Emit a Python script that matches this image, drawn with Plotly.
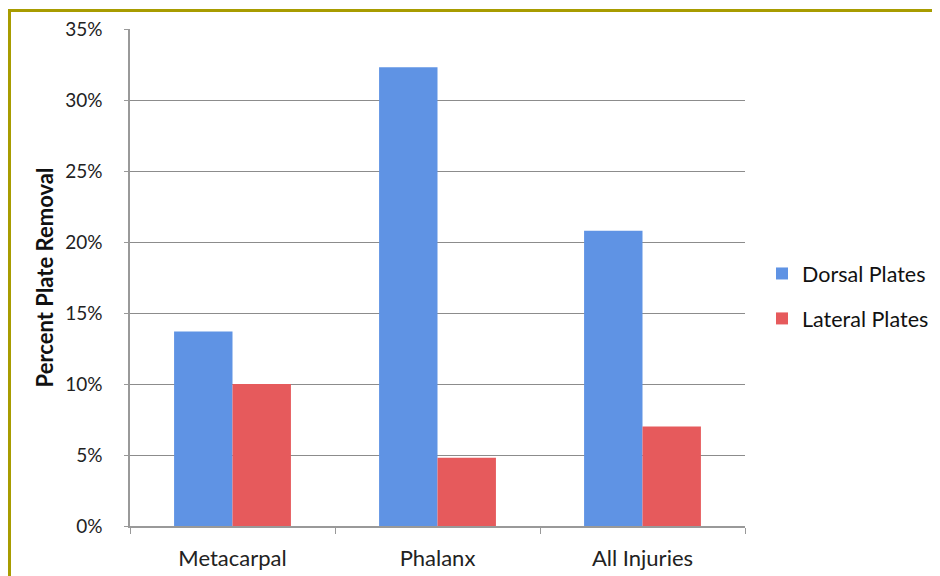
import plotly.graph_objects as go

categories = ["Metacarpal", "Phalanx", "All Injuries"]
dorsal = [0.137, 0.323, 0.208]
lateral = [0.100, 0.048, 0.070]
tick_vals = [0, 0.05, 0.10, 0.15, 0.20, 0.25, 0.30, 0.35]
tick_text = ["0%", "5%", "10%", "15%", "20%", "25%", "30%", "35%"]

# page is rendered with an 8px body margin; work in figure coords = page - 8
OFF = 8
W, H = 940 - OFF, 576 - OFF
L, T = 130 - OFF, 29 - OFF
R, B = W - (745 - OFF), H - (526 - OFF)
pw, ph = W - L - R, H - T - B

font = "Lato, 'Open Sans', sans-serif"

fig = go.Figure()
fig.add_trace(go.Bar(name="Dorsal Plates", x=categories, y=dorsal, legendgroup="d",
                     marker=dict(color="#5F93E4", line=dict(width=0))))
fig.add_trace(go.Bar(name="Lateral Plates", x=categories, y=lateral, legendgroup="l",
                     marker=dict(color="#E65A5C", line=dict(width=0))))

fig.update_layout(
    width=W, height=H,
    margin=dict(l=L, r=R, t=T, b=B, autoexpand=False),
    paper_bgcolor="white", plot_bgcolor="white",
    barmode="group", bargap=0.43, bargroupgap=0,
    font=dict(family=font, size=18, color="#222"),
    legend=dict(x=(762 - OFF - L) / pw, y=(H - (253 - OFF) - B) / ph,
                xanchor="left", yanchor="top",
                font=dict(size=21.5, color="#111"), tracegroupgap=14, itemwidth=30,
                bgcolor="rgba(0,0,0,0)"),
    xaxis=dict(showline=True, linecolor="#999", linewidth=1.5, ticks="outside",
               tickson="boundaries", ticklen=6, tickcolor="#999", automargin=False,
               ticklabelstandoff=12,
               tickfont=dict(size=22, color="#222"), showgrid=False),
    yaxis=dict(range=[0, 0.35], tickvals=tick_vals, ticktext=tick_text,
               showline=True, linecolor="#999", linewidth=1.5, ticks="outside",
               ticklen=4, tickcolor="#999", gridcolor="#8c8c8c", gridwidth=1.2,
               ticklabelstandoff=18, automargin=False,
               tickfont=dict(size=19, color="#222"), zeroline=False,
               title=dict(text="<b>Percent Plate Removal</b>", font=dict(size=22, color="#111"),
                          standoff=5)),
    shapes=[dict(type="rect", xref="paper", yref="paper",
                 x0=(9.5 - OFF - L) / pw, x1=(W + 20 - L) / pw,
                 y0=-(B + 20) / ph, y1=(H - (10.5 - OFF) - B) / ph,
                 line=dict(color="#A89C00", width=3), layer="below")],
)

fig.write_html("out.html")
